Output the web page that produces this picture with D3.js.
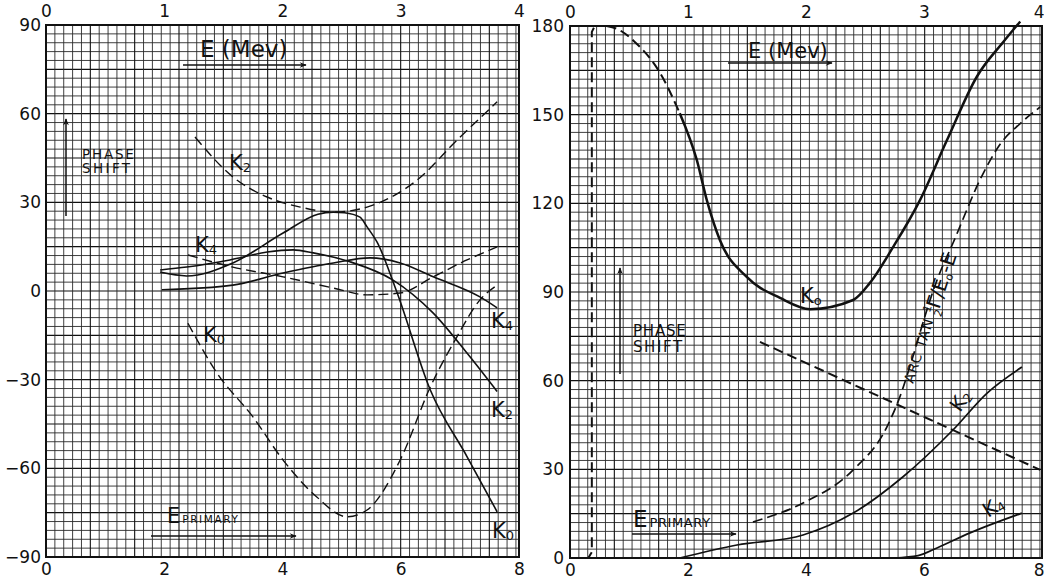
<!DOCTYPE html>
<html>
<head>
<meta charset="utf-8">
<script src="https://cdnjs.cloudflare.com/ajax/libs/d3/7.8.5/d3.min.js"></script>
<style>
  body { margin: 0; background: #fff; }
  text { font-family: "DejaVu Sans", "Liberation Sans", sans-serif; fill: #111; }
</style>
</head>
<body>
<div id="vis"></div>
<script>
// phase shift vs E primary, two panels on graph paper

const FRAME_WIDTH = 1044;
const FRAME_HEIGHT = 580;

// tick labels
const X_BOTTOM_TICKS = [0, 2, 4, 6, 8];
const X_TOP_TICKS = [0, 1, 2, 3, 4];
const Y_TICKS_LEFT = [-90, -60, -30, 0, 30, 60, 90];
const Y_TICKS_RIGHT = [0, 30, 60, 90, 120, 150, 180];

// left panel curves (x = E primary, y = phase shift in degrees)
const L_K0_SOLID_X = [1.93, 2.38, 3.16, 4.01, 4.6, 4.86, 5.05, 5.31, 5.43, 5.6, 5.94, 6.5, 7.12, 7.63];
const L_K0_SOLID_Y = [6.4, 5.1, 9.5, 19.6, 26.0, 26.7, 26.5, 25, 21.7, 16.5, -0.7, -33.5, -56, -74.7];
const L_K2_SOLID_X = [1.93, 2.38, 3.11, 3.74, 4.18, 4.52, 5.14, 5.87, 6.55, 7.12, 7.63];
const L_K2_SOLID_Y = [7.1, 8.1, 10.5, 13.2, 13.9, 12.9, 9.9, 3.7, -7.5, -21, -34];
const L_K4_SOLID_X = [1.96, 3.16, 4.01, 4.86, 5.48, 5.99, 6.55, 7.34, 7.63];
const L_K4_SOLID_Y = [0.4, 2, 6.1, 9.5, 11.2, 9.5, 4.8, -2, -5.7];
const L_K4_DASH_X = [2.4, 3.16, 4.01, 4.86, 5.43, 5.99, 6.55, 7.12, 7.63];
const L_K4_DASH_Y = [12.2, 8.1, 4.8, 1, -1.3, -0.7, 4.8, 10.5, 14.9];
const L_K2_DASH_X = [2.52, 3.16, 3.74, 4.3, 4.86, 5.43, 6.28, 6.95, 7.63];
const L_K2_DASH_Y = [52.1, 38.6, 31.8, 28.4, 26.7, 28.4, 37.6, 51, 64];
const L_K0_DASH_X = [2.4, 2.89, 3.5, 4.01, 4.58, 5.09, 5.43, 5.99, 6.5, 6.95, 7.34, 7.63];
const L_K0_DASH_Y = [-10.9, -27.7, -42.6, -57.2, -69.7, -76.4, -74.1, -57.2, -32.5, -15.5, -3, 2];

// right panel curves
const R_EDGE_X = [0, 0.31, 0.37, 0.37, 0.42, 0.62];
const R_EDGE_Y = [0, 0, 2, 178, 180, 180];
const R_K0_DASH_X = [0.62, 0.8, 1.13, 1.53, 1.86];
const R_K0_DASH_Y = [180, 179, 174, 164, 150.5];
const R_K0_SOLID_X = [1.86, 2.15, 2.32, 2.54, 3, 3.56, 4.07, 4.8, 5.08, 5.47, 5.93, 6.39, 6.9, 7.34, 7.63];
const R_K0_SOLID_Y = [150.5, 134.6, 121, 107.6, 95, 88, 84.2, 87.3, 93, 105, 121, 141.4, 163, 174.5, 181.5];
const R_ARCTAN_X = [3.1, 3.95, 4.8, 5.37, 5.59, 5.81, 6.05, 6.22, 6.49, 7.0, 7.29, 7.63, 7.97];
const R_ARCTAN_Y = [12.2, 18.6, 29.8, 44.3, 54.5, 68, 84, 94, 106.5, 130, 140, 147, 152.6];
const R_LINE_X = [3.22, 7.97];
const R_LINE_Y = [73.1, 29.8];
const R_K2_X = [1.86, 2.83, 3.95, 4.8, 5.64, 6.49, 7.07, 7.66];
const R_K2_Y = [0, 4.4, 7.8, 15.2, 27.4, 43.3, 55.8, 64.6];
const R_K4_X = [5.5, 5.9, 6.22, 6.78, 7.66];
const R_K4_Y = [0, 0.8, 3.4, 8.5, 15.2];

const zip = (xs, ys) => xs.map((x, i) => [x, ys[i]]);

const FRAME = d3.select("#vis")
    .append("svg")
        .attr("width", FRAME_WIDTH)
        .attr("height", FRAME_HEIGHT);

// arrow head
FRAME.append("defs").append("marker")
    .attr("id", "arrow")
    .attr("viewBox", "0 0 10 10")
    .attr("refX", 9).attr("refY", 5)
    .attr("markerWidth", 10).attr("markerHeight", 7)
    .attr("markerUnits", "userSpaceOnUse")
    .attr("orient", "auto")
    .append("path")
        .attr("d", "M0,1 L10,5 L0,9 L3,5 Z")
        .attr("fill", "#111");

// panel setup
const LEFT = {
    x: d3.scaleLinear().domain([0, 8]).range([46, 519]),
    xTop: d3.scaleLinear().domain([0, 4]).range([46, 519]),
    y: d3.scaleLinear().domain([-90, 90]).range([557, 25]),
    yTicks: Y_TICKS_LEFT, gridStep: 3
};
const RIGHT = {
    x: d3.scaleLinear().domain([0, 8]).range([570, 1042]),
    xTop: d3.scaleLinear().domain([0, 4]).range([570, 1042]),
    y: d3.scaleLinear().domain([0, 180]).range([558, 26]),
    yTicks: Y_TICKS_RIGHT, gridStep: 3
};

function drawPaper(p) {
    const [x0, x1] = p.x.range();
    const [y1, y0] = p.y.range();
    const cell = Math.abs(p.y(0) - p.y(p.gridStep));
    const g = FRAME.append("g");
    const ys = d3.range(y0, y1 + 0.5, cell);
    const xs = d3.range(x0, x1 + 0.5, cell);
    g.selectAll(".h").data(ys).enter().append("line")
        .attr("x1", x0).attr("x2", x1)
        .attr("y1", d => d).attr("y2", d => d)
        .attr("stroke", (d, i) => i % 5 === 0 ? "#111" : "#2a2a2a")
        .attr("stroke-width", (d, i) => i % 5 === 0 ? 1.1 : 0.9);
    g.selectAll(".v").data(xs).enter().append("line")
        .attr("y1", y0).attr("y2", y1)
        .attr("x1", d => d).attr("x2", d => d)
        .attr("stroke", (d, i) => i % 5 === 0 ? "#111" : "#2a2a2a")
        .attr("stroke-width", (d, i) => i % 5 === 0 ? 1.1 : 0.9);
    g.append("rect")
        .attr("x", x0).attr("y", y0)
        .attr("width", x1 - x0).attr("height", y1 - y0)
        .attr("fill", "none").attr("stroke", "#111").attr("stroke-width", 2);
}

function drawAxes(p, leftPad, topPad, endAnchor) {
    const [x0] = p.x.range();
    const [yb, yt] = p.y.range();
    const style = g => {
        g.select(".domain").remove();
        g.attr("font-size", 17).attr("font-family", "DejaVu Sans, Liberation Sans, sans-serif");
        g.selectAll("text").attr("fill", "#111");
    };
    // keep the last label inside the page on the far right
    const pullIn = g => {
        if (endAnchor) {
            g.selectAll(".tick").filter((d, i, n) => i === n.length - 1)
                .select("text").attr("text-anchor", "end").attr("x", 2);
        }
    };
    FRAME.append("g")
        .attr("transform", "translate(" + x0 + ",0)")
        .call(d3.axisLeft(p.y).tickValues(p.yTicks).tickSize(0).tickPadding(leftPad).tickFormat(d3.format("d")))
        .call(style);
    FRAME.append("g")
        .attr("transform", "translate(0," + yt + ")")
        .call(d3.axisTop(p.xTop).tickValues(X_TOP_TICKS).tickSize(0).tickPadding(topPad).tickFormat(d3.format("d")))
        .call(style).call(pullIn);
    FRAME.append("g")
        .attr("transform", "translate(0," + yb + ")")
        .call(d3.axisBottom(p.x).tickValues(X_BOTTOM_TICKS).tickSize(0).tickPadding(6).tickFormat(d3.format("d")))
        .call(style).call(pullIn);
}

function drawCurve(p, pts, dashed, width, linear) {
    const line = d3.line()
        .x(d => p.x(d[0]))
        .y(d => p.y(d[1]))
        .curve(linear ? d3.curveLinear : d3.curveMonotoneX);
    FRAME.append("path")
        .datum(pts)
        .attr("d", line)
        .attr("fill", "none")
        .attr("stroke", "#111")
        .attr("stroke-width", width)
        .attr("stroke-linecap", "butt")
        .attr("stroke-dasharray", dashed ? "10,5" : null);
}

function arrow(x1, y1, x2, y2) {
    FRAME.append("line")
        .attr("x1", x1).attr("y1", y1).attr("x2", x2).attr("y2", y2)
        .attr("stroke", "#111").attr("stroke-width", 1.5)
        .attr("marker-end", "url(#arrow)");
}

function kLabel(x, y, sub, size, rot) {
    const t = FRAME.append("text")
        .attr("transform", "translate(" + x + "," + y + ") rotate(" + (rot || 0) + ")")
        .attr("font-size", size);
    t.append("tspan").text("K");
    t.append("tspan").attr("font-size", size * 0.62).attr("dy", size * 0.1).text(sub);
}

function label(x, y, txt, size, spacing) {
    FRAME.append("text")
        .attr("x", x).attr("y", y)
        .attr("font-size", size)
        .attr("letter-spacing", spacing || 0)
        .text(txt);
}

function ePrimary(x, y, bigSize, smallSize, spacing) {
    const t = FRAME.append("text").attr("x", x).attr("y", y);
    t.append("tspan").attr("font-size", bigSize).text("E");
    t.append("tspan").attr("font-size", smallSize).attr("dx", 2)
        .attr("letter-spacing", spacing).text("PRIMARY");
}

// ---------- left panel ----------
drawPaper(LEFT);
drawAxes(LEFT, 5, 8, false);

drawCurve(LEFT, zip(L_K2_DASH_X, L_K2_DASH_Y), true, 1.4);
drawCurve(LEFT, zip(L_K4_DASH_X, L_K4_DASH_Y), true, 1.4);
drawCurve(LEFT, zip(L_K0_DASH_X, L_K0_DASH_Y), true, 1.4);
drawCurve(LEFT, zip(L_K0_SOLID_X, L_K0_SOLID_Y), false, 1.6);
drawCurve(LEFT, zip(L_K2_SOLID_X, L_K2_SOLID_Y), false, 1.6);
drawCurve(LEFT, zip(L_K4_SOLID_X, L_K4_SOLID_Y), false, 1.6);

label(200, 57, "E (Mev)", 23);
arrow(183, 65, 306, 65);
label(82, 159, "PHASE", 13.5, 1.8);
label(82, 173, "SHIFT", 13.5, 2.4);
arrow(66, 216, 66, 119);
kLabel(229, 170, "2", 21);
kLabel(195, 252, "4", 21);
kLabel(203, 342, "0", 21);
kLabel(491, 328, "4", 21);
kLabel(491, 417, "2", 21);
kLabel(492, 538, "0", 21);
ePrimary(167, 523, 21, 10.5, 1.6);
arrow(151, 536, 296, 536);

// ---------- right panel ----------
drawPaper(RIGHT);
drawAxes(RIGHT, 6, 8, true);

drawCurve(RIGHT, zip(R_EDGE_X, R_EDGE_Y), true, 2, true);
drawCurve(RIGHT, zip(R_K0_DASH_X, R_K0_DASH_Y), true, 2);
drawCurve(RIGHT, zip(R_K0_SOLID_X, R_K0_SOLID_Y), false, 2.5);
drawCurve(RIGHT, zip(R_ARCTAN_X, R_ARCTAN_Y), true, 1.7);
drawCurve(RIGHT, zip(R_LINE_X, R_LINE_Y), true, 2, true);
drawCurve(RIGHT, zip(R_K2_X, R_K2_Y), false, 1.7);
drawCurve(RIGHT, zip(R_K4_X, R_K4_Y), false, 1.7);

label(748, 58, "E (Mev)", 21);
arrow(728, 63, 832, 63);
label(633, 336, "PHASE", 15, 0.8);
label(633, 352, "SHIFT", 15, 1.6);
arrow(620, 374, 620, 268);
kLabel(800, 303, "o", 21);
kLabel(960, 413, "2", 20, -55);
kLabel(988, 518, "4", 20, -32);
ePrimary(633, 527, 23, 13, 0.6);
arrow(632, 534, 736, 534);

// ARC TAN ½Γ / E0-E written along the dashed curve
const arc = FRAME.append("text")
    .attr("transform", "translate(913,384) rotate(-72)")
    .attr("font-size", 14);
arc.append("tspan").attr("letter-spacing", 1).text("ARC TAN ");
arc.append("tspan").attr("font-size", 11).attr("dy", -6).text("1");
arc.append("tspan").attr("font-size", 11).attr("dx", -8).attr("dy", 12).text("2");
arc.append("tspan").attr("font-size", 20).attr("dy", -4).text("Γ/E");
arc.append("tspan").attr("font-size", 11).attr("dy", 3).text("o");
arc.append("tspan").attr("font-size", 20).attr("dy", -3).text("-E");
</script>
</body>
</html>
